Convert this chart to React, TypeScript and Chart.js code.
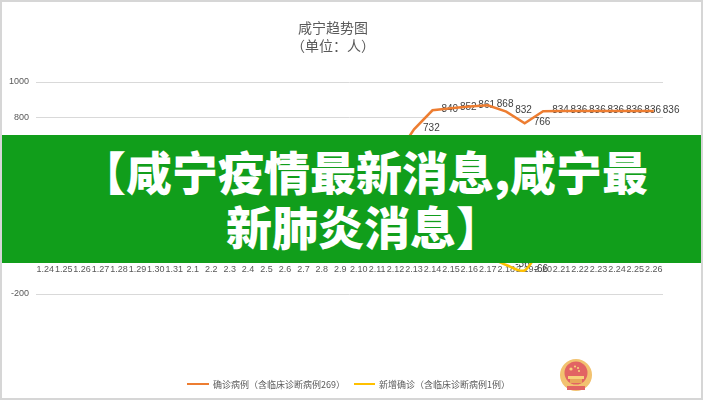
import React, { useEffect, useRef } from 'react';
import { Chart, registerables } from 'chart.js';

Chart.register(...registerables);

const categories = ['1.24','1.25','1.26','1.27','1.28','1.29','1.30','1.31','2.1','2.2','2.3','2.4','2.5','2.6','2.7','2.8','2.9','2.10','2.11','2.12','2.13','2.14','2.15','2.16','2.17','2.18','2.19','2.20','2.21','2.22','2.23','2.24','2.25','2.26'];
const confirmedCases = [10, 14, 36, 66, 98, 134, 166, 206, 233, 296, 354, 384, 431, 477, 493, 507, 525, 548, 565, 577, 732, 840, 852, 861, 868, 832, 766, 834, 836, 836, 836, 836, 836, 836];
const newCases = [10, 4, 22, 30, 32, 36, 32, 40, 27, 63, 58, 30, 47, 46, 16, 14, 18, 23, 17, 12, 155, 108, 12, 9, 7, -36, -66, 68, 2, 0, 0, 0, 0, 0];
const yTicks = [-200, 0, 200, 400, 600, 800, 1000];
const chartTitle = '咸宁趋势图';
const chartSubtitle = '（单位：人）';
const seriesNames = ['确诊病例（含临床诊断病例269）', '新增确诊（含临床诊断病例1例）'];
const seriesColors = ['#ED7D31', '#FFC000'];
const bannerLines = ['【咸宁疫情最新消息,咸宁最', '新肺炎消息】'];

const labelPlugin = {
  id: 'pointLabels',
  beforeDatasetsDraw(chart: any) {
    const ctx = chart.ctx;
    ctx.save();
    ctx.font = '10px "Liberation Sans", sans-serif';
    ctx.fillStyle = '#404040';
    ctx.textAlign = 'left';
    ctx.textBaseline = 'middle';
    chart.data.datasets.forEach((ds: any, i: number) => {
      const meta = chart.getDatasetMeta(i);
      meta.data.forEach((pt: any, j: number) => {
        ctx.fillText(String(ds.data[j]), pt.x + 9, pt.y - 1);
      });
    });
    ctx.restore();
  },
};

export default function App() {
  const ref = useRef<HTMLCanvasElement>(null);
  useEffect(() => {
    if (!ref.current) return;
    const tickFont = { size: 9, family: '"Liberation Sans", sans-serif' };
    const chart = new Chart(ref.current, {
      type: 'line',
      data: {
        labels: categories,
        datasets: [
          { label: seriesNames[0], data: confirmedCases, borderColor: seriesColors[0], backgroundColor: seriesColors[0], borderWidth: 2.5, pointRadius: 0, tension: 0 },
          { label: seriesNames[1], data: newCases, borderColor: seriesColors[1], backgroundColor: seriesColors[1], borderWidth: 2.5, pointRadius: 0, tension: 0.35 },
        ],
      },
      options: {
        responsive: false,
        animation: false,
        layout: { padding: { top: 82, bottom: 106, right: 40, left: 0 } },
        plugins: { legend: { display: false }, title: { display: false }, tooltip: { enabled: false } },
        scales: {
          x: {
            position: { y: 0 } as any,
            offset: true,
            grid: { display: false, drawTicks: false },
            border: { display: false },
            ticks: { autoSkip: false, maxRotation: 0, minRotation: 0, padding: 5, color: '#595959', font: tickFont },
          },
          y: {
            min: -200,
            max: 1000,
            afterBuildTicks: (s: any) => { s.ticks = yTicks.map((v) => ({ value: v })); },
            afterFit: (s: any) => { s.width = 36; },
            grid: { color: '#d9d9d9', drawTicks: false },
            border: { display: false },
            ticks: { padding: 7, color: '#595959', font: tickFont, callback: (v: any) => String(v) },
          },
        },
      },
      plugins: [labelPlugin],
    });
    return () => chart.destroy();
  }, []);

  const cjk = '"Noto Sans CJK SC", sans-serif';
  return (
    <div style={{ position: 'fixed', left: 0, top: 0, width: 703, height: 400, background: '#fff', overflow: 'hidden' }}>
      <canvas ref={ref} width={703} height={400} style={{ position: 'absolute', left: 0, top: 0, width: 703, height: 400 }} />
      <div style={{ position: 'absolute', left: 233, width: 200, top: 18, textAlign: 'center', font: `14px ${cjk}`, color: '#595959', lineHeight: '18px' }}>
        <div>{chartTitle}</div>
        <div>{chartSubtitle}</div>
      </div>
      <div style={{ position: 'absolute', top: 377, left: 187, height: 14, display: 'flex', alignItems: 'center', font: `9px ${cjk}`, color: '#595959', whiteSpace: 'nowrap' }}>
        <span style={{ display: 'inline-block', width: 22, height: 2.5, background: seriesColors[0], marginRight: 4 }} />
        <span style={{ marginRight: 9 }}>{seriesNames[0]}</span>
        <span style={{ display: 'inline-block', width: 21, height: 2.5, background: seriesColors[1], marginRight: 4 }} />
        <span>{seriesNames[1]}</span>
      </div>
      <svg style={{ position: 'absolute', left: 559, top: 357 }} width={34} height={36} viewBox="0 0 34 36">
        <circle cx={17} cy={18} r={16} fill="#F2C270" />
        <circle cx={17} cy={16} r={11.5} fill="#E26463" />
        <circle cx={12} cy={12} r={1.6} fill="#F7D27A" />
        <circle cx={16} cy={9.5} r={1.1} fill="#F7D27A" />
        <circle cx={19} cy={11} r={1.1} fill="#F7D27A" />
        <circle cx={20} cy={14} r={1.1} fill="#F7D27A" />
        <rect x={9} y={19} width={16} height={3} fill="#F7D27A" />
        <rect x={11} y={22} width={12} height={4} fill="#E8A85A" />
        <rect x={8} y={29} width={18} height={4} fill="#E26463" />
      </svg>
      <div style={{ position: 'absolute', left: 0, top: 135, width: 703, height: 128, background: 'rgb(17,158,27)' }}>
        <div style={{ position: 'absolute', left: 0, width: 728, top: 8, textAlign: 'center', color: '#fff', fontFamily: cjk, fontWeight: 900, fontSize: 46, lineHeight: '55px', whiteSpace: 'nowrap' }}>
          <div>{bannerLines[0]}</div>
          <div>{bannerLines[1]}</div>
        </div>
      </div>
      <div style={{ position: 'absolute', left: 0, top: 0, width: 703, height: 400, boxSizing: 'border-box', border: '2px solid #d6d6d6', pointerEvents: 'none' }} />
    </div>
  );
}
